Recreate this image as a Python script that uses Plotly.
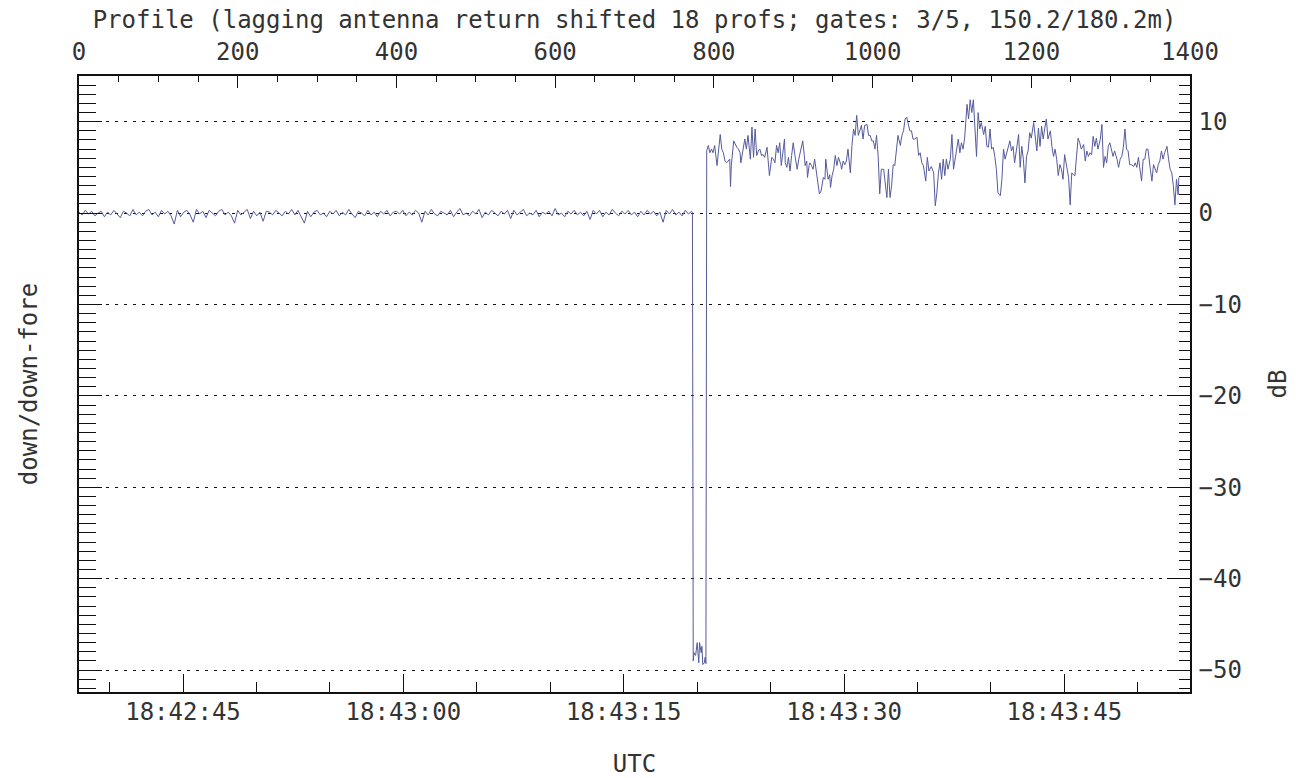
import plotly.graph_objects as go

# ---- data -------------------------------------------------------------
# quiet stretch before the event, one value every 4 profiles (0..772)
QUIET_STEP = 4
QUIET_DB = [
    0.1, -0.2, 0.3, -0.1, 0.2, -0.3, 0.0, 0.2, -0.4, 0.1, -0.2, 0.3, -0.1, -0.5, 0.2, 0.0, -0.3, 0.4, -0.2, 0.1,
    -0.3, 0.2, 0.4, -0.2, 0.1, -0.4, 0.3, -0.1, 0.2, -0.3, -1.2, 0.3, -0.4, 0.1, 0.3, -0.2, -1.0, 0.4, -0.1, 0.2,
    -0.5, 0.3, 0.0, -0.3, 0.2, 0.4, -0.2, 0.1, -0.3, -1.1, 0.3, -0.2, 0.1, 0.4, -0.6, 0.2, -0.3, 0.1, -0.9, 0.2,
    0.1, -0.2, 0.3, 0.0, -0.3, 0.2, -0.1, 0.4, -0.2, 0.3, -0.4, -1.1, 0.2, -0.4, 0.1, 0.3, -0.2, 0.0, -0.4, 0.2,
    -0.1, 0.3, -0.3, 0.1, -0.2, 0.4, -0.1, -0.5, 0.2, 0.0, -0.3, 0.3, -0.2, 0.1, -0.4, 0.2, -0.1, 0.3, -0.3, 0.1,
    0.2, -0.1, 0.3, -0.3, 0.1, -0.2, 0.3, 0.0, -1.0, 0.2, -0.2, 0.4, -0.1, -0.3, 0.2, 0.0, -0.2, 0.3, -0.4, 0.1,
    0.5, -0.2, 0.0, -0.3, 0.2, -0.1, 0.4, -0.5, 0.1, -0.2, 0.3, 0.0, -0.3, 0.2, -0.1, 0.3, -0.6, 0.3, -0.2, 0.1,
    0.4, -0.3, 0.0, -0.2, 0.3, -0.4, 0.1, -0.1, 0.2, -0.3, 0.5, -0.2, 0.0, -0.4, 0.2, -0.1, 0.3, -0.2, 0.1, -0.3,
    0.2, -0.7, 0.3, -0.1, 0.3, -0.4, 0.1, -0.2, 0.4, 0.0, -0.3, 0.2, -0.1, 0.3, -0.2, 0.1, -0.4, 0.2, -0.2, 0.3,
    -0.1, 0.2, -0.3, 0.1, -1.0, 0.3, -0.1, 0.4, -0.2, 0.1, -0.3, 0.3, -0.1, 0.2,
]

# dropout of the lagging antenna
GAP_PROFILE = [773, 774, 775, 777, 778, 779, 781, 782, 784, 785, 786, 788, 789, 790, 791]
GAP_DB = [0.1, -49.0, -48.1, -48.4, -47.7, -47.0, -49.2, -47.0, -48.1, -47.4, -49.4, -49.2, -48.6, -49.3, 6.8]

# echo after the dropout, first part
ECHO_A_PROFILE = [
    793, 795, 797, 799, 801, 804, 806, 808, 810, 812,
    814, 816, 818, 820, 821, 822, 825, 827, 829, 831,
    833, 834, 837, 839, 841, 843, 846, 848, 850, 852,
    854, 856, 858, 860, 862, 864, 867, 869, 870, 873,
    875, 877, 879, 881, 883, 885, 887, 889, 890, 892,
    894, 896, 898, 900, 902, 904, 905, 907, 909, 911,
    912, 914, 915, 917, 918, 920, 921, 923, 925, 927,
    930, 931, 933, 935, 936, 938, 940, 941, 943, 944,
    946, 947, 949, 951, 953, 955, 957, 958, 960, 961,
    963, 965, 967, 969, 972, 974, 976, 978, 980, 982,
    984, 986, 988, 989, 990, 993, 995, 997, 999, 1001,
    1003, 1005, 1007, 1009, 1011, 1014, 1016, 1018, 1020, 1022,
    1024, 1026, 1028, 1030, 1032, 1035, 1037, 1039, 1041, 1043,
    1045, 1047, 1049, 1051, 1053, 1056, 1058, 1060, 1062, 1064,
    1067, 1069, 1071,
]
ECHO_A_DB = [
    7.4, 6.6, 7.0, 6.6, 7.4, 5.2, 7.0, 8.6, 7.0, 6.6,
    5.7, 5.5, 5.7, 5.9, 2.9, 5.2, 7.9, 7.5, 7.2, 7.0,
    6.6, 5.5, 7.0, 8.1, 7.0, 8.5, 5.9, 9.4, 6.1, 9.2,
    6.3, 6.8, 7.0, 6.3, 6.4, 6.1, 7.2, 5.5, 4.1, 6.1,
    5.9, 5.5, 7.4, 6.6, 7.7, 5.2, 7.0, 8.1, 5.5, 5.0,
    6.1, 4.6, 6.3, 7.7, 6.4, 5.5, 4.8, 5.9, 6.6, 7.4,
    7.9, 6.3, 5.2, 5.7, 3.9, 5.2, 5.5, 5.2, 4.8, 5.9,
    4.1, 3.2, 2.1, 2.4, 2.8, 3.9, 3.7, 5.9, 4.4, 3.7,
    4.2, 2.8, 4.1, 4.8, 6.3, 5.2, 6.1, 5.9, 5.3, 4.8,
    5.7, 5.3, 5.7, 7.0, 4.4, 7.4, 9.2, 8.5, 10.7, 8.5,
    9.0, 9.6, 8.1, 9.0, 9.6, 9.7, 8.5, 8.5, 7.9, 7.9,
    7.0, 8.5, 6.3, 2.1, 4.8, 4.8, 3.3, 1.7, 4.8, 1.7,
    3.0, 5.3, 5.2, 7.0, 8.5, 7.4, 8.5, 9.0, 10.3, 10.5,
    9.6, 9.0, 9.0, 8.1, 8.1, 8.3, 6.3, 6.6, 5.5, 5.2,
    3.5, 6.1, 4.6,
]

# echo, second part
ECHO_B_PROFILE = [
    1074, 1077, 1079, 1081, 1083, 1085, 1087, 1089, 1091, 1093,
    1095, 1098, 1100, 1102, 1104, 1106, 1108, 1110, 1112, 1114,
    1116, 1119, 1121, 1123, 1125, 1127, 1129, 1131, 1133, 1135,
    1137, 1140, 1142, 1144, 1146, 1148, 1150, 1152, 1154, 1156,
    1158, 1161, 1163, 1165, 1167, 1169, 1171, 1173, 1175, 1177,
    1179, 1182, 1184, 1186, 1188, 1190, 1192, 1194, 1196, 1198,
    1200, 1203, 1205, 1207, 1209, 1211, 1213, 1215, 1217, 1219,
    1221, 1224, 1226, 1228, 1230, 1232, 1234, 1236, 1238, 1240,
    1242, 1245, 1247, 1249, 1251, 1253, 1255, 1257, 1259, 1261,
    1263, 1266, 1268, 1270, 1272, 1274, 1276, 1278, 1280, 1282,
    1284, 1287, 1289, 1291, 1293, 1295, 1297, 1299, 1301, 1303,
    1305, 1308, 1310, 1312, 1314, 1316, 1318, 1320, 1322, 1324,
    1326, 1329, 1331, 1333, 1335, 1337, 1339, 1341, 1343, 1345,
    1347, 1350, 1352, 1354, 1356, 1358, 1360, 1362, 1364, 1366,
    1368, 1371, 1373, 1375, 1377, 1379, 1381, 1383, 1385, 1386,
]
ECHO_B_DB = [
    5.1, 4.4, 0.8, 2.2, 4.4, 5.5, 3.7, 5.9, 4.1, 5.9,
    4.8, 5.9, 8.6, 4.8, 5.9, 6.6, 8.1, 6.6, 7.7, 7.0,
    8.2, 11.9, 10.3, 12.4, 11.0, 12.4, 9.9, 6.2, 11.0, 9.2,
    9.9, 8.6, 9.5, 7.3, 7.2, 9.2, 7.0, 7.2, 6.2, 4.8,
    2.2, 1.9, 3.7, 7.0, 5.9, 6.6, 7.3, 7.9, 6.8, 7.3,
    5.5, 7.5, 8.6, 5.0, 7.3, 5.9, 3.3, 6.2, 6.8, 8.8,
    8.2, 9.9, 8.2, 6.8, 9.3, 7.3, 9.5, 8.1, 9.3, 10.3,
    8.1, 9.0, 7.3, 6.2, 7.0, 5.9, 4.1, 5.3, 4.8, 3.7,
    6.4, 4.6, 3.9, 0.9, 4.4, 4.2, 4.1, 6.2, 8.2, 7.7,
    7.0, 7.5, 5.7, 6.8, 6.2, 6.6, 6.4, 8.4, 7.3, 8.2,
    7.0, 8.1, 9.7, 5.0, 6.2, 5.5, 7.3, 7.7, 7.0, 6.2,
    6.8, 5.9, 5.0, 5.9, 6.2, 7.2, 9.2, 7.0, 6.8, 5.3,
    5.3, 5.1, 5.5, 5.0, 6.1, 4.4, 3.5, 5.9, 5.9, 7.0,
    7.0, 4.8, 3.5, 5.3, 4.8, 4.4, 5.3, 5.7, 6.8, 5.9,
    6.6, 7.3, 5.9, 4.8, 4.4, 3.0, 0.9, 3.7, 2.0, 3.9,
]

# axes
PROFILE_RANGE = [0, 1400]
PROFILE_DTICK = 200
DB_RANGE = [-52.4, 15.0]
DB_TICKS = [10, 0, -10, -20, -30, -40, -50]
UTC_RANGE = ["18:42:37.92", "18:43:53.55"]
UTC_TICKS = ["18:42:45", "18:43:00", "18:43:15", "18:43:30", "18:43:45"]

TITLE = "Profile (lagging antenna return shifted 18 profs; gates: 3/5, 150.2/180.2m)"

assert len(ECHO_A_PROFILE) == len(ECHO_A_DB)
assert len(ECHO_B_PROFILE) == len(ECHO_B_DB)
assert len(GAP_PROFILE) == len(GAP_DB)


def seconds_of_day(hms):
    h, m, s = hms.split(":")
    return int(h) * 3600 + int(m) * 60 + float(s)


profiles = [i * QUIET_STEP for i in range(len(QUIET_DB))] + GAP_PROFILE + ECHO_A_PROFILE + ECHO_B_PROFILE
ratio_db = QUIET_DB + GAP_DB + ECHO_A_DB + ECHO_B_DB

utc_vals = [seconds_of_day(t) for t in UTC_TICKS]
utc_range = [seconds_of_day(t) for t in UTC_RANGE]

FONT = dict(family="DejaVu Sans Mono", size=24, color="#333333")
LINE_COLOR = "#565b9b"
AX = "#111111"

fig = go.Figure()
# anchor trace for the time/left-axis subplot
fig.add_trace(go.Scatter(x=[], y=[], xaxis="x", yaxis="y", showlegend=False, hoverinfo="skip"))
fig.add_trace(go.Scatter(
    x=profiles, y=ratio_db, xaxis="x2", yaxis="y2", mode="lines",
    line=dict(color=LINE_COLOR, width=1), showlegend=False,
))

fig.update_layout(
    width=1310, height=778,
    margin=dict(l=79, r=120, t=76, b=86),
    paper_bgcolor="white", plot_bgcolor="white",
    font=FONT,
    xaxis=dict(
        range=utc_range, tickmode="array", tickvals=utc_vals, ticktext=UTC_TICKS,
        ticks="inside", ticklen=18, tickwidth=1.2, tickcolor=AX,
        minor=dict(ticks="inside", dtick=5, tick0=utc_vals[0], ticklen=10, tickwidth=1.2, tickcolor=AX),
        showline=True, linecolor=AX, linewidth=1.5, showgrid=False, zeroline=False,
        automargin=False, ticklabelstandoff=-3,
        title=dict(text="UTC", standoff=39, font=FONT),
    ),
    xaxis2=dict(
        overlaying="x", side="top", range=PROFILE_RANGE, dtick=PROFILE_DTICK, tick0=0,
        ticks="inside", ticklen=12, tickwidth=1.2, tickcolor=AX,
        minor=dict(ticks="inside", dtick=50, ticklen=6, tickwidth=1.2, tickcolor=AX),
        showline=True, linecolor=AX, linewidth=1.5, showgrid=False, zeroline=False,
        automargin=False, ticklabelstandoff=5,
        title=dict(text=TITLE, standoff=2, font=FONT),
    ),
    yaxis=dict(
        range=DB_RANGE, dtick=10, tick0=0, ticks="inside", ticklen=23, tickwidth=1.2, tickcolor=AX,
        minor=dict(ticks="inside", dtick=1, ticklen=17, tickwidth=1.2, tickcolor=AX),
        showticklabels=False, showline=True, linecolor=AX, linewidth=1.5,
        showgrid=False, zeroline=False, automargin=False,
        title=dict(text="down/down-fore", standoff=33, font=FONT),
    ),
    yaxis2=dict(
        overlaying="y", side="right", range=DB_RANGE, tickmode="array", tickvals=DB_TICKS,
        ticks="inside", ticklen=23, tickwidth=1.2, tickcolor=AX,
        minor=dict(ticks="inside", dtick=1, ticklen=11, tickwidth=1.2, tickcolor=AX, showgrid=False),
        showline=True, linecolor=AX, linewidth=1.5,
        showgrid=True, gridcolor="#111111", gridwidth=1, griddash="3px,6px", zeroline=False,
        automargin=False, ticklabelstandoff=2,
        title=dict(text="dB", standoff=28, font=FONT),
    ),
)

fig.write_html("out.html")
